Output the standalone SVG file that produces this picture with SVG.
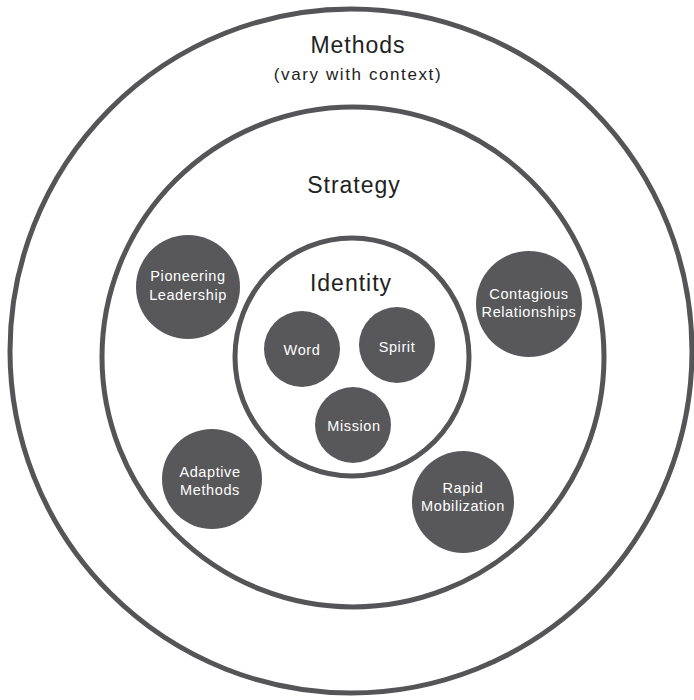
<svg xmlns="http://www.w3.org/2000/svg" width="694" height="700" viewBox="0 0 694 700">
<style>
.ring{fill:none;stroke:#555557;stroke-width:5}
.node{fill:#58585a}
.lbl{font-family:"Liberation Sans",Arial,sans-serif;fill:#222;text-anchor:middle}
.big{font-size:23px;letter-spacing:1px}
.sub{font-size:17px;letter-spacing:1.6px}
.nt{font-family:"Liberation Sans",Arial,sans-serif;fill:#fff;text-anchor:middle;font-size:14.5px;letter-spacing:0.6px}
</style>
<rect width="694" height="700" fill="#fff"/>
<g id="rings">
<ellipse id="methods-ring" class="ring" cx="351" cy="351" rx="341" ry="342"/>
<ellipse id="strategy-ring" class="ring" cx="353" cy="357" rx="251" ry="250"/>
<ellipse id="identity-ring" class="ring" cx="352" cy="357" rx="117" ry="119"/>
</g>
<g id="labels">
<text class="lbl big" x="358" y="53">Methods</text>
<text class="lbl sub" x="358" y="80">(vary with context)</text>
<text class="lbl big" x="354" y="193">Strategy</text>
<text class="lbl big" x="351" y="291">Identity</text>
</g>
<g id="pioneering-leadership">
<circle class="node" cx="188" cy="287" r="52"/>
<text class="nt" x="188" y="281">Pioneering</text>
<text class="nt" x="188" y="300">Leadership</text>
</g>
<g id="contagious-relationships">
<circle class="node" cx="529" cy="304" r="53"/>
<text class="nt" x="529" y="299">Contagious</text>
<text class="nt" x="529" y="317">Relationships</text>
</g>
<g id="word">
<circle class="node" cx="302" cy="349" r="38"/>
<text class="nt" x="302" y="355">Word</text>
</g>
<g id="spirit">
<circle class="node" cx="397" cy="345" r="38"/>
<text class="nt" x="397" y="352">Spirit</text>
</g>
<g id="mission">
<circle class="node" cx="353" cy="425" r="38"/>
<text class="nt" x="354" y="431">Mission</text>
</g>
<g id="adaptive-methods">
<circle class="node" cx="212" cy="479" r="50"/>
<text class="nt" x="210" y="477">Adaptive</text>
<text class="nt" x="210" y="495">Methods</text>
</g>
<g id="rapid-mobilization">
<circle class="node" cx="463" cy="502" r="51"/>
<text class="nt" x="463" y="493">Rapid</text>
<text class="nt" x="463" y="511">Mobilization</text>
</g>
<g id="connectors"/>
</svg>
